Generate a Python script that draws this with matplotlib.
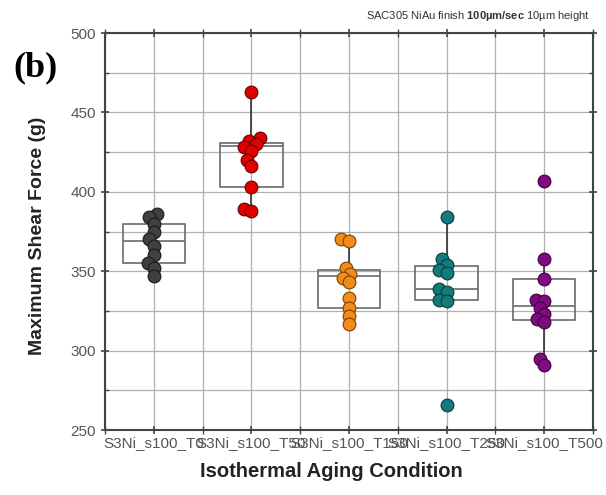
import matplotlib
matplotlib.use('Agg')
import matplotlib.pyplot as plt
from matplotlib.ticker import MultipleLocator
import numpy as np
import pandas as pd
import seaborn as sns

conditions = ['S3Ni_s100_T0', 'S3Ni_s100_T50', 'S3Ni_s100_T150',
              'S3Ni_s100_T250', 'S3Ni_s100_T500']
force_T0 = [386, 384, 380, 375, 370, 366, 360, 355, 352, 347]
force_T50 = [463, 434, 432, 430, 428, 426, 420, 416, 403, 389, 388]
force_T150 = [370, 369, 352, 348, 346, 343, 333, 327, 322, 317]
force_T250 = [384, 358, 354, 351, 349, 339, 337, 332, 331, 266]
force_T500 = [407, 358, 345, 332, 331, 327, 323, 320, 318, 295, 291]

# box statistics as drawn in the figure
box_q1 = [355, 403, 327, 332, 319]
box_med = [369, 429, 347, 339, 328]
box_q3 = [380, 431, 351, 353, 345]
whis_lo = [347, 389, 317, 331, 291]
whis_hi = [386, 463, 370, 384, 358]

colors = ['#404040', '#e00000', '#f28a1c', '#147a7a', '#800a80']
edges = ['#1a1a1a', '#6a0000', '#7a4200', '#0a3e3e', '#400040']

plt.rcParams['font.family'] = ['Liberation Sans', 'DejaVu Sans']
plt.rcParams['mathtext.fontset'] = 'custom'
plt.rcParams['mathtext.rm'] = 'Liberation Sans'
plt.rcParams['mathtext.bf'] = 'Liberation Sans:bold'

fig = plt.figure(figsize=(6.06, 4.95), dpi=100)
ax = fig.add_axes([0.1733, 0.1313, 0.8053, 0.802])

all_forces = [force_T0, force_T50, force_T150, force_T250, force_T500]
df = pd.DataFrame({
    'cond': np.repeat(conditions, [len(f) for f in all_forces]),
    'force': np.concatenate(all_forces),
})

stats = []
for i in range(len(conditions)):
    stats.append({'q1': box_q1[i], 'med': box_med[i], 'q3': box_q3[i],
                  'whislo': whis_lo[i], 'whishi': whis_hi[i], 'fliers': []})
ax.bxp(stats, positions=range(len(conditions)), widths=0.64,
       showcaps=False, showfliers=False, patch_artist=True,
       boxprops=dict(facecolor='none', edgecolor='#6a6a6a', linewidth=1.2),
       medianprops=dict(color='#6a6a6a', linewidth=1.2),
       whiskerprops=dict(color='#333333', linewidth=1.2), zorder=2)

ax.set_xlim(-0.5, 4.5)
ax.set_ylim(250, 500)

# tight swarm: lay out with small markers, then redraw the points bigger
n_before = len(ax.collections)
sns.swarmplot(data=df, x='cond', y='force', order=conditions, ax=ax,
              size=5.5, native_scale=False)
fig.canvas.draw()
swarm = ax.collections[n_before:]
offsets = [c.get_offsets().copy() for c in swarm]
for c in swarm:
    c.remove()
for i, xy in enumerate(offsets):
    ax.scatter(xy[:, 0], xy[:, 1], s=9.2 ** 2, color=colors[i],
               edgecolor=edges[i], linewidth=0.8, zorder=3)

ax.set_xlim(-0.5, 4.5)
ax.set_ylim(250, 500)
ax.set_xticks(range(len(conditions)))
ax.set_xticklabels(conditions)
ax.xaxis.set_minor_locator(MultipleLocator(0.5))
ax.yaxis.set_major_locator(MultipleLocator(50))
ax.yaxis.set_minor_locator(MultipleLocator(25))
ax.grid(True, which='both', color='#b0b0b0', linewidth=0.9, zorder=0)
ax.set_axisbelow(True)

ax.tick_params(axis='both', which='major', labelsize=11, labelcolor='#555555',
               color='#444444', direction='inout', length=6, width=1.2,
               top=True, right=True)
ax.tick_params(axis='x', which='major', pad=1.5)
ax.tick_params(axis='both', which='minor', color='#444444', direction='in',
               length=3, width=1.0, top=True, right=True)
ax.tick_params(axis='x', which='minor', direction='inout', length=6)
for s in ax.spines.values():
    s.set_color('#444444')
    s.set_linewidth(1.5)

ax.set_xlabel('Isothermal Aging Condition', fontsize=14.5, fontweight='bold',
              color='#222222')
ax.xaxis.set_label_coords(0.463, -0.08)
ax.set_ylabel('Maximum Shear Force (g)', fontsize=14, fontweight='bold',
              color='#222222')
ax.yaxis.set_label_coords(-0.12, 0.49)

fig.text(0.973, 0.968, r'SAC305 NiAu finish $\mathbf{100µm/sec}$ 10µm height',
         ha='right', va='center', fontsize=8, color='#333333')
fig.text(0.059, 0.862, '(b)', ha='center', va='center', fontsize=26,
         fontweight='bold', family='Liberation Serif', color='black')

fig.savefig('out.png', dpi=100)
